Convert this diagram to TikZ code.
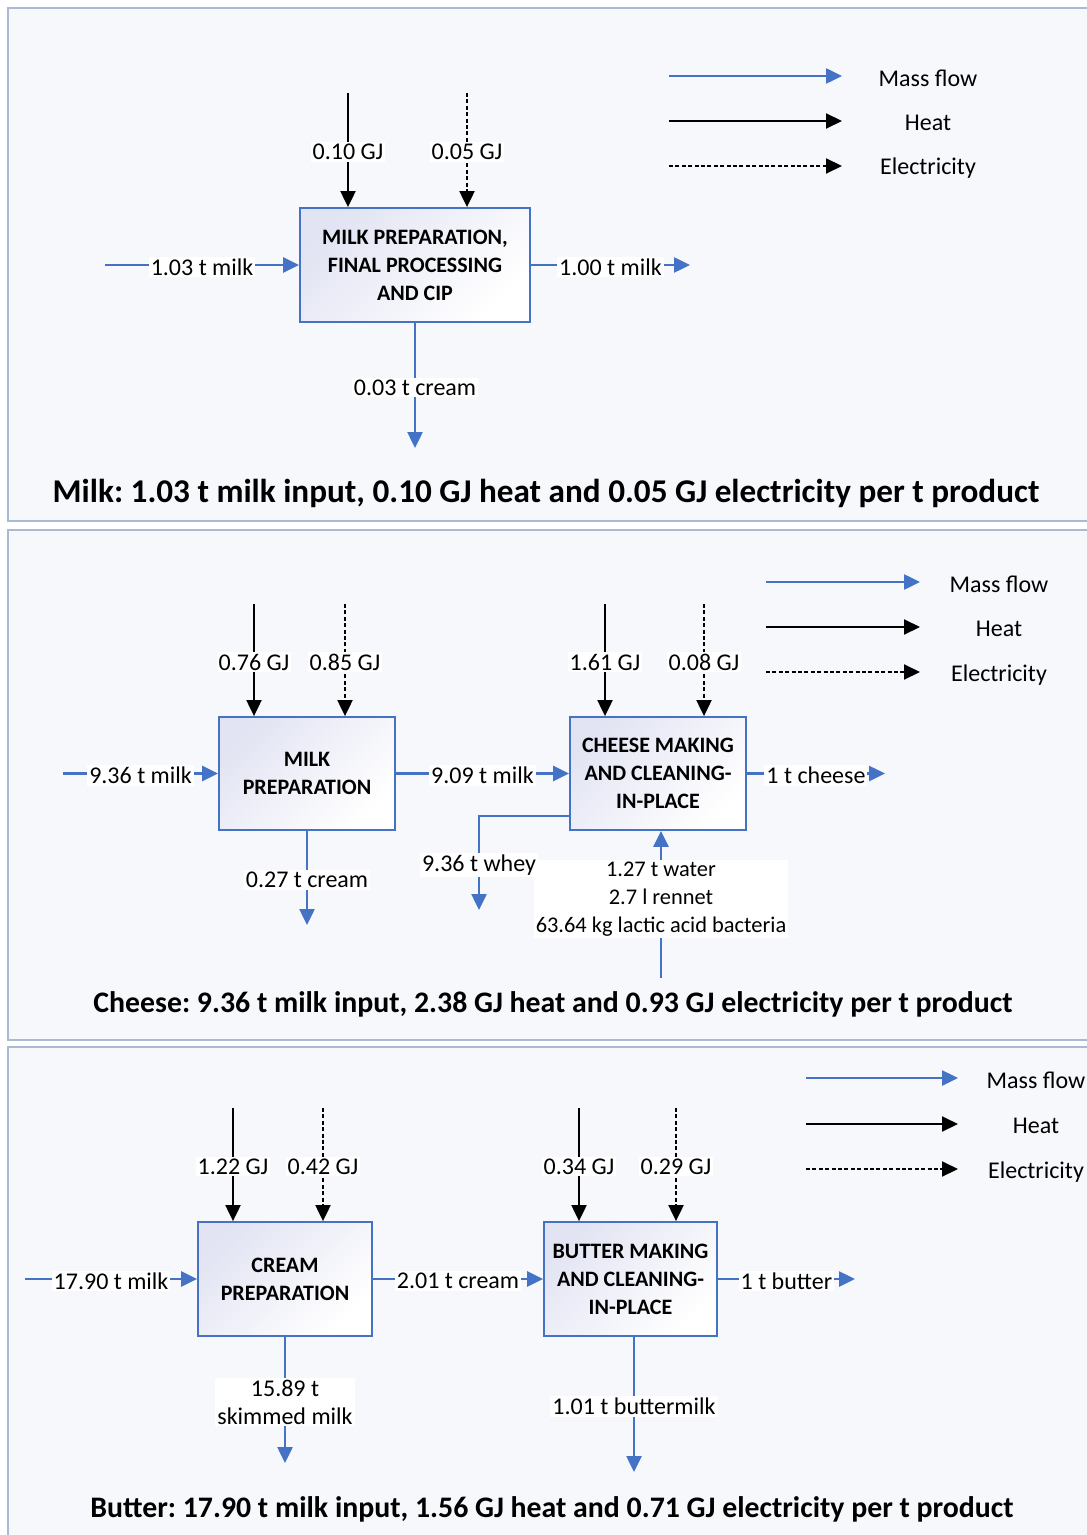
\documentclass[tikz,border=0pt]{standalone}
\usepackage{fontspec}
\setmainfont{Carlito}
\usetikzlibrary{arrows.meta}
\definecolor{flowblue}{HTML}{4472C4}
\definecolor{framegrey}{HTML}{A9BAD3}
\definecolor{panelbg}{HTML}{F6F8FC}
\definecolor{boxtint}{HTML}{E2E4F3}
\frenchspacing

\begin{document}
\begin{tikzpicture}[x=0.5pt,y=-0.5pt,
    >={Triangle[length=8pt,width=7.5pt]},
    panel/.style={draw=framegrey,line width=1pt,fill=panelbg},
    proc/.style={draw=flowblue,line width=0.9pt,top color=boxtint,bottom color=white,shading angle=45,
      align=center,inner sep=2pt,font=\bfseries\fontsize{11}{14}\selectfont},
    mass/.style={flowblue,line width=1.25pt},
    heat/.style={black,line width=1pt},
    elec/.style={black,line width=1pt,dash pattern=on 2pt off 1.2pt},
    lbl/.style={fill=white,text=black,inner sep=1pt,yshift=-1pt,font=\fontsize{12}{14}\selectfont},
    legend/.style={font=\fontsize{12}{14}\selectfont},
    title/.style={font=\bfseries\fontsize{14.9}{18}\selectfont}]
  \useasboundingbox (0,0) rectangle (1086,1535);
  % panels
  \draw[panel] (8,8) rectangle (1096,521);
  \draw[panel] (8,530) rectangle (1096,1040);
  \draw[panel] (8,1047) rectangle (1096,1545);

  % milk
  \node[proc,minimum width=115pt,minimum height=57pt] (b1) at (415,265)
    {MILK PREPARATION,\\FINAL PROCESSING\\AND CIP};
  \coordinate (h1) at (348,93);
  \coordinate (e1) at (467,93);
  \coordinate (in1) at (105,265);
  \coordinate (out1) at (690,265);
  \coordinate (cr1) at (415,448);
  \draw[heat,->] (h1) -- node[lbl] {0.10 GJ} (b1.north -| h1);
  \draw[elec,->] (e1) -- node[lbl] {0.05 GJ} (b1.north -| e1);
  \draw[mass,->] (in1) -- node[lbl] {1.03 t milk} (b1.west);
  \draw[mass,->] (b1.east) -- node[lbl] {1.00 t milk} (out1);
  \draw[mass,->] (b1.south) -- node[lbl] {0.03 t cream} (cr1);
  \node[title,font=\bfseries\fontsize{16.6}{18}\selectfont] (t1) at (546,493)
    {Milk: 1.03 t milk input, 0.10 GJ heat and 0.05 GJ electricity per t product};
  % legend
  \coordinate (lm1a) at (669,76);  \coordinate (lm1b) at (842,76);
  \coordinate (lh1a) at (669,121); \coordinate (lh1b) at (842,121);
  \coordinate (le1a) at (669,166); \coordinate (le1b) at (842,166);
  \draw[mass,->] (lm1a) -- (lm1b);
  \draw[heat,->] (lh1a) -- (lh1b);
  \draw[elec,->] (le1a) -- (le1b);
  \node[legend] (lt1a) at (928,78) {Mass flow};
  \node[legend] (lt1b) at (928,123) {Heat};
  \node[legend] (lt1c) at (928,168) {Electricity};

  % cheese
  \node[proc,minimum width=88pt,minimum height=56.5pt] (mp) at (307,773.5)
    {MILK\\PREPARATION};
  \node[proc,minimum width=88pt,minimum height=56.5pt] (cm) at (658,773.5)
    {CHEESE MAKING\\AND CLEANING-\\IN-PLACE};
  \coordinate (h2) at (254,604);
  \coordinate (e2) at (345,604);
  \coordinate (h3) at (605,604);
  \coordinate (e3) at (704,604);
  \coordinate (in2) at (63,773.5);
  \coordinate (out2) at (885,773.5);
  \coordinate (cr2) at (307,925);
  \coordinate (whey) at (479,910);
  \coordinate (add) at (661,978);
  \draw[heat,->] (h2) -- node[lbl] {0.76 GJ} (mp.north -| h2);
  \draw[elec,->] (e2) -- node[lbl] {0.85 GJ} (mp.north -| e2);
  \draw[heat,->] (h3) -- node[lbl] {1.61 GJ} (cm.north -| h3);
  \draw[elec,->] (e3) -- node[lbl] {0.08 GJ} (cm.north -| e3);
  \draw[mass,->] (in2) -- node[lbl] {9.36 t milk} (mp.west);
  \draw[mass,->] (mp.east) -- node[lbl] {9.09 t milk} (cm.west);
  \draw[mass,->] (cm.east) -- node[lbl] {1 t cheese} (out2);
  \draw[mass,->] (mp.south) -- node[lbl] {0.27 t cream} (cr2);
  \draw[mass,->] (add) -- node[lbl,align=center,pos=0.55,font=\fontsize{11.2}{14}\selectfont]
    {1.27 t water\\2.7 l rennet\\63.64 kg lactic acid bacteria} (cm.south -| add);
  \draw[mass,->] ([yshift=7.5pt]cm.south west) -| node[lbl,pos=0.75] {9.36 t whey} (whey);
  \node[title] (t2) at (553,1004)
    {Cheese: 9.36 t milk input, 2.38 GJ heat and 0.93 GJ electricity per t product};
  % legend
  \coordinate (lm2a) at (766,582);  \coordinate (lm2b) at (920,582);
  \coordinate (lh2a) at (766,627);  \coordinate (lh2b) at (920,627);
  \coordinate (le2a) at (766,672);  \coordinate (le2b) at (920,672);
  \draw[mass,->] (lm2a) -- (lm2b);
  \draw[heat,->] (lh2a) -- (lh2b);
  \draw[elec,->] (le2a) -- (le2b);
  \node[legend] (lt2a) at (999,584) {Mass flow};
  \node[legend] (lt2b) at (999,629) {Heat};
  \node[legend] (lt2c) at (999,675) {Electricity};

  % butter
  \node[proc,minimum width=87pt,minimum height=57pt] (cp) at (285,1279)
    {CREAM\\PREPARATION};
  \node[proc,minimum width=86.5pt,minimum height=57pt] (bm) at (630.5,1279)
    {BUTTER MAKING\\AND CLEANING-\\IN-PLACE};
  \coordinate (h4) at (233,1108);
  \coordinate (e4) at (323,1108);
  \coordinate (h5) at (579,1108);
  \coordinate (e5) at (676,1108);
  \coordinate (in3) at (25,1279);
  \coordinate (out3) at (855,1279);
  \coordinate (skim) at (285,1463);
  \coordinate (bmilk) at (634,1472);
  \draw[heat,->] (h4) -- node[lbl] {1.22 GJ} (cp.north -| h4);
  \draw[elec,->] (e4) -- node[lbl] {0.42 GJ} (cp.north -| e4);
  \draw[heat,->] (h5) -- node[lbl] {0.34 GJ} (bm.north -| h5);
  \draw[elec,->] (e5) -- node[lbl] {0.29 GJ} (bm.north -| e5);
  \draw[mass,->] (in3) -- node[lbl] {17.90 t milk} (cp.west);
  \draw[mass,->] (cp.east) -- node[lbl] {2.01 t cream} (bm.west);
  \draw[mass,->] (bm.east) -- node[lbl] {1 t butter} (out3);
  \draw[mass,->] (cp.south) -- node[lbl,align=center] {15.89 t\\skimmed milk} (skim);
  \draw[mass,->] (bm.south -| bmilk) -- node[lbl] {1.01 t buttermilk} (bmilk);
  \node[title] (t3) at (552,1509)
    {Butter: 17.90 t milk input, 1.56 GJ heat and 0.71 GJ electricity per t product};
  % legend
  \coordinate (lm3a) at (806,1078); \coordinate (lm3b) at (958,1078);
  \coordinate (lh3a) at (806,1124); \coordinate (lh3b) at (958,1124);
  \coordinate (le3a) at (806,1169); \coordinate (le3b) at (958,1169);
  \draw[mass,->] (lm3a) -- (lm3b);
  \draw[heat,->] (lh3a) -- (lh3b);
  \draw[elec,->] (le3a) -- (le3b);
  \node[legend] (lt3a) at (1036,1080) {Mass flow};
  \node[legend] (lt3b) at (1036,1126) {Heat};
  \node[legend] (lt3c) at (1036,1172) {Electricity};
\end{tikzpicture}
\end{document}
